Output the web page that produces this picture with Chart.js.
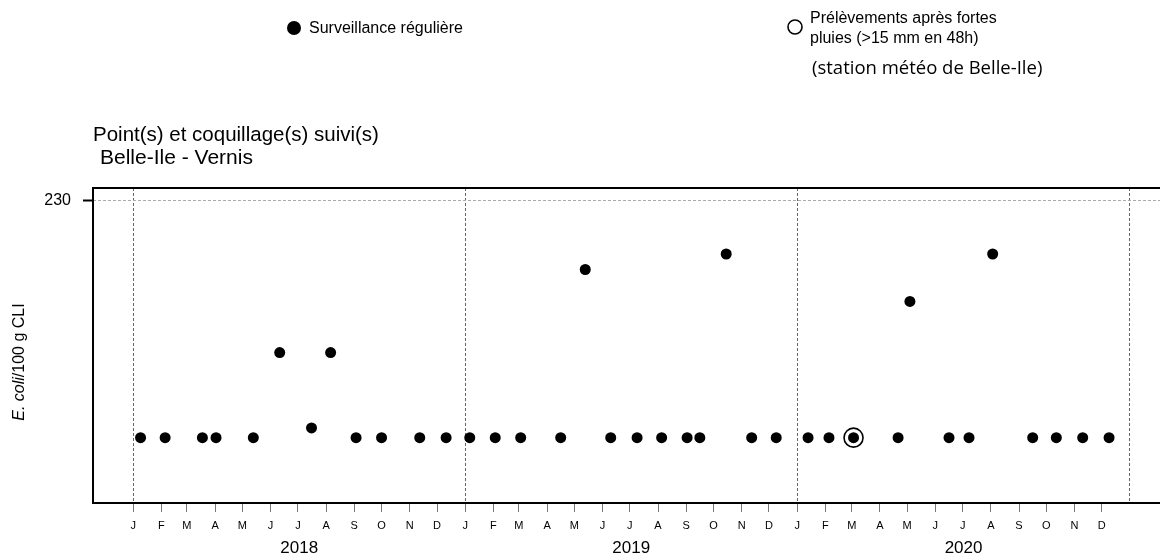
<!DOCTYPE html>
<html lang="fr">
<head>
  <meta charset="UTF-8">
  <title>Belle-Ile - Vernis</title>
  <script src="https://cdn.jsdelivr.net/npm/chart.js"></script>
  <style>
    body {
      margin: 0;
      background: #fff;
      overflow: hidden;
    }
    canvas {
      display: block;
    }
  </style>
</head>
<body>
  <canvas id="graphique" width="1200" height="553"></canvas>

  <script>
    const moisLettres = ['J', 'F', 'M', 'A', 'M', 'J', 'J', 'A', 'S', 'O', 'N', 'D'];
    const annees = [2018, 2019, 2020];
    const yTicks = [230];

    // surveillance régulière (E. coli / 100 g CLI)
    const datesRegulieres = [
      '2018-01-09', '2018-02-05', '2018-03-18', '2018-04-02', '2018-05-13', '2018-06-11',
      '2018-07-16', '2018-08-06', '2018-09-03', '2018-10-01', '2018-11-12', '2018-12-11',
      '2019-01-06', '2019-02-03', '2019-03-03', '2019-04-16', '2019-05-13', '2019-06-10',
      '2019-07-09', '2019-08-05', '2019-09-02', '2019-09-16', '2019-10-15', '2019-11-12',
      '2019-12-09', '2020-01-13', '2020-02-05', '2020-03-03', '2020-04-21', '2020-05-04',
      '2020-06-16', '2020-07-08', '2020-08-03', '2020-09-16', '2020-10-12', '2020-11-10',
      '2020-12-09'
    ];
    const valeursRegulieres = [
      18, 18, 18, 18, 18, 45,
      20, 45, 18, 18, 18, 18,
      18, 18, 18, 18, 110, 18,
      18, 18, 18, 18, 130, 18,
      18, 18, 18, 18, 18, 78,
      18, 18, 130, 18, 18, 18,
      18
    ];

    // prélèvements après fortes pluies
    const datesPluies = ['2020-03-03'];
    const valeursPluies = [18];

    const origine = Date.UTC(2018, 0, 1);
    function jour(d) {
      const p = d.split('-').map(Number);
      return (Date.UTC(p[0], p[1] - 1, p[2]) - origine) / 86400000;
    }
    function debutMois(a, m) {
      return (Date.UTC(a, m, 1) - origine) / 86400000;
    }

    // ticks des mois (+ janvier 2021 pour la ligne pointillée)
    const ticksMois = [];
    const etiquettesMois = [];
    annees.forEach(function (a) {
      moisLettres.forEach(function (l, m) {
        ticksMois.push(debutMois(a, m));
        etiquettesMois.push(l);
      });
    });
    const finPeriode = debutMois(2021, 0);
    ticksMois.push(finPeriode);
    etiquettesMois.push('');

    const ticksAnnees = annees.map(a => (debutMois(a, 0) + debutMois(a + 1, 0)) / 2);

    const estJanvier = v => ticksMois.indexOf(v) >= 0 && ticksMois.indexOf(v) % 12 === 0;

    const xMin = -44.3, xMax = 1145.5;

    const decor = {
      id: 'decor',
      afterDraw(chart) {
        const ctx = chart.ctx;
        const a = chart.chartArea;
        ctx.save();

        // cadre
        ctx.strokeStyle = '#000';
        ctx.lineWidth = 2;
        ctx.strokeRect(a.left, a.top, a.right - a.left, a.bottom - a.top);

        ctx.fillStyle = '#000';
        ctx.textBaseline = 'middle';
        ctx.textAlign = 'left';

        // légende
        ctx.beginPath();
        ctx.arc(294, 28, 7, 0, Math.PI * 2);
        ctx.fill();
        ctx.font = '16px "Liberation Sans", Arial, sans-serif';
        ctx.fillText('Surveillance régulière', 309, 29);

        ctx.beginPath();
        ctx.lineWidth = 1.6;
        ctx.arc(795, 27, 7, 0, Math.PI * 2);
        ctx.stroke();
        ctx.fillText('Prélèvements après fortes', 810, 19);
        ctx.fillText('pluies (>15 mm en 48h)', 810, 39);

        ctx.font = '18.5px "Open Sans", sans-serif';
        ctx.fillText('(station météo de Belle-Ile)', 812, 69);

        // titres
        ctx.font = '20.5px "Liberation Sans", Arial, sans-serif';
        ctx.fillText('Point(s) et coquillage(s) suivi(s)', 93, 135);
        ctx.font = '21px "Liberation Sans", Arial, sans-serif';
        ctx.fillText('Belle-Ile - Vernis', 100, 158);

        // titre axe y : E. coli en italique
        ctx.translate(20, 362);
        ctx.rotate(-Math.PI / 2);
        const t1 = 'E. coli';
        const t2 = '/100 g CLI';
        ctx.font = 'italic 16px "Liberation Sans", Arial, sans-serif';
        const w1 = ctx.measureText(t1).width;
        ctx.font = '16px "Liberation Sans", Arial, sans-serif';
        const w2 = ctx.measureText(t2).width;
        let x0 = -(w1 + w2) / 2;
        ctx.font = 'italic 16px "Liberation Sans", Arial, sans-serif';
        ctx.fillText(t1, x0, 0);
        ctx.font = '16px "Liberation Sans", Arial, sans-serif';
        ctx.fillText(t2, x0 + w1, 0);

        ctx.restore();
      }
    };

    new Chart(document.getElementById('graphique'), {
      type: 'scatter',
      data: {
        datasets: [
          {
            label: 'Surveillance régulière',
            data: datesRegulieres.map((d, i) => ({ x: jour(d), y: valeursRegulieres[i] })),
            pointRadius: 5.5,
            pointHoverRadius: 5.5,
            pointBackgroundColor: '#000',
            pointBorderWidth: 0
          },
          {
            label: 'Prélèvements après fortes pluies (>15 mm en 48h)',
            data: datesPluies.map((d, i) => ({ x: jour(d), y: valeursPluies[i] })),
            pointRadius: 9.5,
            pointHoverRadius: 9.5,
            pointBackgroundColor: 'rgba(0,0,0,0)',
            pointBorderColor: '#000',
            pointBorderWidth: 1.6
          }
        ]
      },
      options: {
        responsive: false,
        animation: false,
        layout: { padding: { top: 188, left: 0, right: 25, bottom: 0 } },
        plugins: {
          legend: { display: false },
          tooltip: { enabled: false }
        },
        scales: {
          x: {
            type: 'linear',
            position: 'bottom',
            min: xMin,
            max: xMax,
            bounds: 'data',
            afterBuildTicks: s => { s.ticks = ticksMois.map(v => ({ value: v })); },
            afterFit: s => { s.height = 32; },
            ticks: {
              autoSkip: false,
              maxRotation: 0,
              padding: 7,
              color: '#000',
              font: { family: '"Liberation Sans", Arial, sans-serif', size: 11 },
              callback: (v, i) => etiquettesMois[i]
            },
            grid: {
              color: c => (c.tick && estJanvier(c.tick.value)) ? '#666' : 'rgba(0,0,0,0)',
              lineWidth: 1,
              tickLength: 9,
              tickColor: c => (c.tick && c.tick.value === finPeriode) ? 'rgba(0,0,0,0)' : '#777',
              tickBorderDash: []
            },
            border: { display: false, dash: [3, 2] }
          },
          x2: {
            type: 'linear',
            position: 'bottom',
            weight: 1,
            min: xMin,
            max: xMax,
            bounds: 'data',
            afterBuildTicks: s => { s.ticks = ticksAnnees.map(v => ({ value: v })); },
            afterFit: s => { s.height = 18; },
            ticks: {
              autoSkip: false,
              maxRotation: 0,
              padding: 3,
              color: '#000',
              font: { family: '"Liberation Sans", Arial, sans-serif', size: 17 },
              callback: (v, i) => String(annees[i])
            },
            grid: { display: false, drawTicks: false },
            border: { display: false }
          },
          y: {
            type: 'logarithmic',
            min: 8.91,
            max: 264.5,
            bounds: 'data',
            afterBuildTicks: s => { s.ticks = yTicks.map(v => ({ value: v })); },
            afterFit: s => { s.width = 93; },
            ticks: {
              padding: 12,
              color: '#000',
              font: { family: '"Liberation Sans", Arial, sans-serif', size: 16 },
              callback: v => String(v)
            },
            grid: {
              color: '#aaa',
              lineWidth: 1,
              tickLength: 10,
              tickColor: '#000',
              tickWidth: 2,
              tickBorderDash: []
            },
            border: { display: false, dash: [3, 2] }
          }
        }
      },
      plugins: [decor]
    });
  </script>
</body>
</html>
